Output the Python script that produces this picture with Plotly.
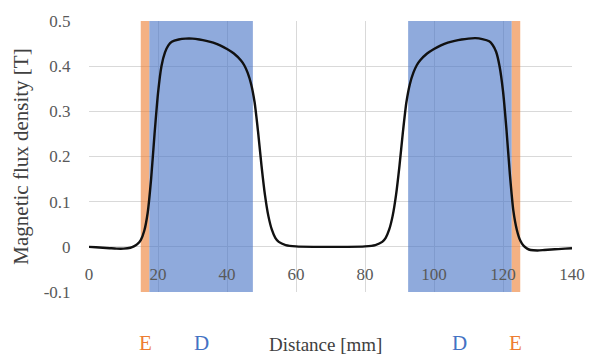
import plotly.graph_objects as go

# Measured flux density profile along the sensor path
distance_mm = [0, 2, 4, 6, 8, 10, 12, 13, 14, 15, 16, 17, 18, 19, 20, 21, 22, 23, 24,
               26, 28, 30, 32, 34, 36, 38, 40, 42, 44, 45, 46, 47, 48, 49, 50, 51, 52,
               53, 54, 55, 57, 60, 65, 70, 75, 80, 83, 85, 86, 87, 88, 89, 90, 91, 92,
               93, 94, 95, 96, 98, 100, 102, 104, 106, 108, 110, 112, 114, 116, 117,
               118, 119, 120, 121, 122, 123, 124, 125, 126, 127, 128, 130, 132, 134,
               136, 138, 140]
flux_T = [0.000, -0.001, -0.002, -0.003, -0.004, -0.004, -0.002, 0.001, 0.006, 0.015,
          0.035, 0.075, 0.150, 0.250, 0.340, 0.400, 0.430, 0.446, 0.454,
          0.459, 0.461, 0.461, 0.459, 0.456, 0.452, 0.446, 0.438, 0.428, 0.413, 0.402,
          0.385, 0.360, 0.320, 0.255, 0.180, 0.115, 0.068,
          0.038, 0.020, 0.011, 0.004, 0.001, 0.000, 0.000, 0.000, 0.001, 0.004, 0.011,
          0.020, 0.038, 0.068, 0.115, 0.180, 0.255, 0.320,
          0.360, 0.385, 0.402, 0.413, 0.428, 0.438, 0.446, 0.452, 0.456, 0.459, 0.461,
          0.462, 0.460, 0.455, 0.447,
          0.432, 0.400, 0.345, 0.260, 0.160, 0.080, 0.038, 0.014, 0.002, -0.004, -0.007,
          -0.008, -0.007, -0.006,
          -0.005, -0.004, -0.003]

# Shaded zones: (start, end) in mm
e_zones = [(15.0, 17.5), (122.5, 125.0)]
d_zones = [(17.5, 47.5), (92.5, 122.5)]
e_label, d_label = "E", "D"

x_ticks = [0, 20, 40, 60, 80, 100, 120, 140]
y_ticks = [-0.1, 0, 0.1, 0.2, 0.3, 0.4, 0.5]
y_ticktext = ["-0.1", "0", "0.1", "0.2", "0.3", "0.4", "0.5"]

x_range = [0, 140]
y_range = [-0.1, 0.5]

SERIF = "Liberation Serif"
E_BAND, D_BAND = "rgba(237,125,49,0.6)", "rgba(68,114,196,0.6)"
E_TEXT, D_TEXT = "#ED7D31", "#4472C4"
LABEL_Y = -0.19

fig = go.Figure()
fig.add_trace(go.Scatter(
    x=distance_mm, y=flux_T, mode="lines",
    line=dict(color="#111111", width=2.4, shape="spline", smoothing=0.6),
    hoverinfo="skip", showlegend=False,
))

shapes = []
annotations = []
for x0, x1 in e_zones:
    shapes.append(dict(type="rect", xref="x", yref="y", x0=x0, x1=x1,
                       y0=y_range[0], y1=y_range[1], fillcolor=E_BAND,
                       line=dict(width=0), layer="between"))
    annotations.append(dict(xref="x", yref="paper", x=(x0 + x1) / 2, y=LABEL_Y,
                            text=e_label, showarrow=False, yanchor="middle",
                            font=dict(family=SERIF, size=21, color=E_TEXT)))
for x0, x1 in d_zones:
    shapes.append(dict(type="rect", xref="x", yref="y", x0=x0, x1=x1,
                       y0=y_range[0], y1=y_range[1], fillcolor=D_BAND,
                       line=dict(width=0), layer="between"))
    annotations.append(dict(xref="x", yref="paper", x=(x0 + x1) / 2, y=LABEL_Y,
                            text=d_label, showarrow=False, yanchor="middle",
                            font=dict(family=SERIF, size=21, color=D_TEXT)))

annotations.append(dict(xref="paper", yref="paper", x=0.49, y=LABEL_Y - 0.005,
                        text="Distance [mm]", showarrow=False, yanchor="middle",
                        font=dict(family=SERIF, size=19, color="#404040")))

fig.update_layout(
    width=600, height=356,
    margin=dict(l=89, r=28, t=19, b=64),
    paper_bgcolor="white", plot_bgcolor="white",
    shapes=shapes, annotations=annotations,
    xaxis=dict(
        range=x_range, tickvals=x_ticks, showgrid=True, gridcolor="#D9D9D9",
        gridwidth=1, zeroline=False, showline=False,
        anchor="free", position=(0 - y_range[0]) / (y_range[1] - y_range[0]),
        ticks="outside", ticklen=12, tickcolor="rgba(0,0,0,0)",
        tickfont=dict(family=SERIF, size=17, color="#595959"),
        fixedrange=True,
    ),
    yaxis=dict(
        range=y_range, tickvals=y_ticks, ticktext=y_ticktext,
        showgrid=True, gridcolor="#D9D9D9", gridwidth=1,
        zeroline=False, showline=False,
        ticks="outside", ticklen=14, tickcolor="rgba(0,0,0,0)",
        tickfont=dict(family=SERIF, size=17, color="#595959"),
        title=dict(text="Magnetic flux density [T]", standoff=9,
                   font=dict(family=SERIF, size=21, color="#404040")),
        fixedrange=True,
    ),
)

fig.write_html("out.html")
